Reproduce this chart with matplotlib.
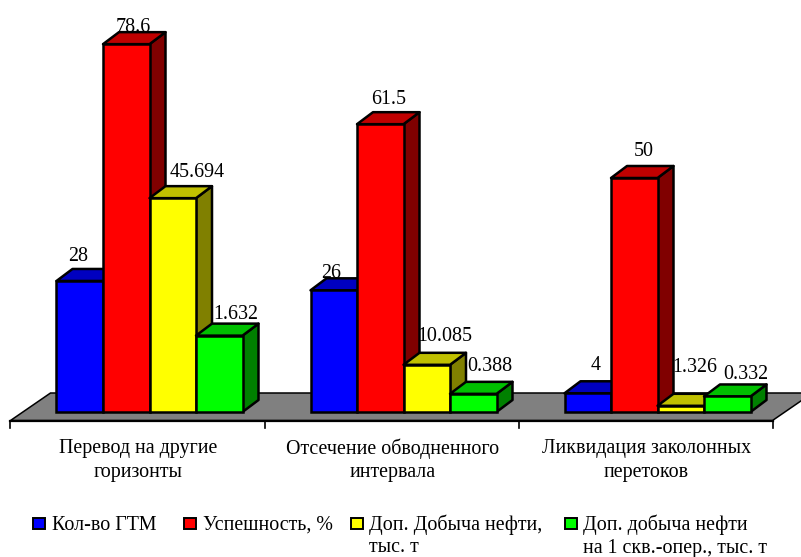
import matplotlib
matplotlib.use('Agg')
import matplotlib.pyplot as plt
from matplotlib.patches import Polygon, Rectangle

categories = ['Перевод на другие\nгоризонты',
              'Отсечение обводненного\nинтервала',
              'Ликвидация заколонных\nперетоков']

kol_vo = [28, 26, 4]
uspeshnost = [78.6, 61.5, 50]
dobycha = [45.694, 10.085, 1.326]
dobycha_skv = [1.632, 0.388, 0.332]

series_names = ['Кол-во ГТМ', 'Успешность, %', 'Доп. Добыча нефти,\nтыс. т',
                'Доп. добыча нефти\nна 1 скв.-опер., тыс. т']
series_values = [kol_vo, uspeshnost, dobycha, dobycha_skv]
# per-well series is plotted at ten times its value so it stays visible
series_scale = [1, 1, 1, 10]
front_colors = ['#0000ff', '#ff0000', '#ffff00', '#00ff00']
top_colors = ['#0000c0', '#c00000', '#c0c000', '#00c000']
side_colors = ['#000080', '#800000', '#808000', '#008000']

# label offsets from the bar's front-left top corner, in pixels
label_offsets = [
    [(22, 24), (30, 17), (48, 26), (40, 21)],
    [(21, 17), (32, 25), (41, 28), (40, 27)],
    [(31, 28), (33, 27), (37, 38), (42, 22)],
]
legend_x = [33, 184, 351, 565]
legend_text_x = [52, 203, 369, 583]

W, H = 801, 557
GROUP_PX = 254.0     # distance between categories
UNIT_PX = 4.68       # pixels per value unit
BAR_W = 46.5 / GROUP_PX
DEPTH_X = 16 / GROUP_PX
DEPTH_Y = 12 / UNIT_PX
FLOOR_DX = 40 / GROUP_PX
FLOOR_DY = 19 / UNIT_PX

fig = plt.figure(figsize=(W / 100, H / 100), dpi=100)
ax = fig.add_axes([0, 0, 1, 1])
ax.set_xlim(-149.5 / GROUP_PX, (W - 149.5) / GROUP_PX)
ax.set_ylim(-(H - 412) / UNIT_PX, 412 / UNIT_PX)
ax.axis('off')

plt.rcParams['font.family'] = ['Liberation Serif', 'DejaVu Serif']
FS = 14.4
LW = 1.8

# floor under the bars
axis_y = -8.5 / UNIT_PX
left_edge = -0.5 - 12 / GROUP_PX
right_edge = 2.5 - 12 / GROUP_PX
ax.add_patch(Polygon([(left_edge, axis_y), (right_edge, axis_y),
                      (right_edge + FLOOR_DX, axis_y + FLOOR_DY + 8.5 / UNIT_PX),
                      (left_edge + FLOOR_DX, axis_y + FLOOR_DY + 8.5 / UNIT_PX)],
                     fc='#808080', ec='black', lw=1.1))

# category axis with ticks
ax.plot([left_edge, right_edge], [axis_y, axis_y], color='black', lw=1.6, zorder=2)
for i in range(len(categories) + 1):
    tx = left_edge + i
    ax.plot([tx, tx], [axis_y, axis_y - 7 / UNIT_PX], color='black', lw=1.2, zorder=2)

for i, name in enumerate(categories):
    first, second = name.split('\n')
    ax.text(left_edge + i + 0.5 + 1 / GROUP_PX, -(449 - 412) / UNIT_PX, first,
            ha='center', va='center', fontsize=FS, color='black')
    ax.text(left_edge + i + 0.5 + 1 / GROUP_PX, -(473 - 412) / UNIT_PX, second,
            ha='center', va='center', fontsize=FS, color='black')

# bars, left to right so each one covers the side of the previous
z = 3
for c in range(len(categories)):
    for s, values in enumerate(series_values):
        v = values[c]
        h = v * series_scale[s]
        x0 = c + (s - 2) * BAR_W
        x1 = x0 + BAR_W
        ax.add_patch(Polygon([(x1, 0), (x1 + DEPTH_X, DEPTH_Y), (x1 + DEPTH_X, h + DEPTH_Y), (x1, h)],
                             fc=side_colors[s], ec='black', lw=LW, joinstyle='round', zorder=z))
        ax.add_patch(Polygon([(x0, h), (x1, h), (x1 + DEPTH_X, h + DEPTH_Y), (x0 + DEPTH_X, h + DEPTH_Y)],
                             fc=top_colors[s], ec='black', lw=LW, joinstyle='round', zorder=z))
        ax.bar(x0, h, width=BAR_W, align='edge', color=front_colors[s],
               edgecolor='black', linewidth=LW, zorder=z)
        z += 1
        dx, dy = label_offsets[c][s]
        ax.annotate(str(v), (x0, h), xytext=(dx * 0.72, dy * 0.72), textcoords='offset points',
                    ha='center', va='center', fontsize=FS, color='black', zorder=50)

# legend
for i, name in enumerate(series_names):
    fig.add_artist(Rectangle((legend_x[i] / W, 1 - 529 / H), 12 / W, 11 / H, fc=front_colors[i],
                             ec='black', lw=1.4, transform=fig.transFigure))
    for j, line in enumerate(name.split('\n')):
        fig.text(legend_text_x[i] / W, 1 - (530 + j * 22.5) / H, line, ha='left', va='baseline',
                 fontsize=FS, color='black')

fig.savefig('out.png', dpi=100)
